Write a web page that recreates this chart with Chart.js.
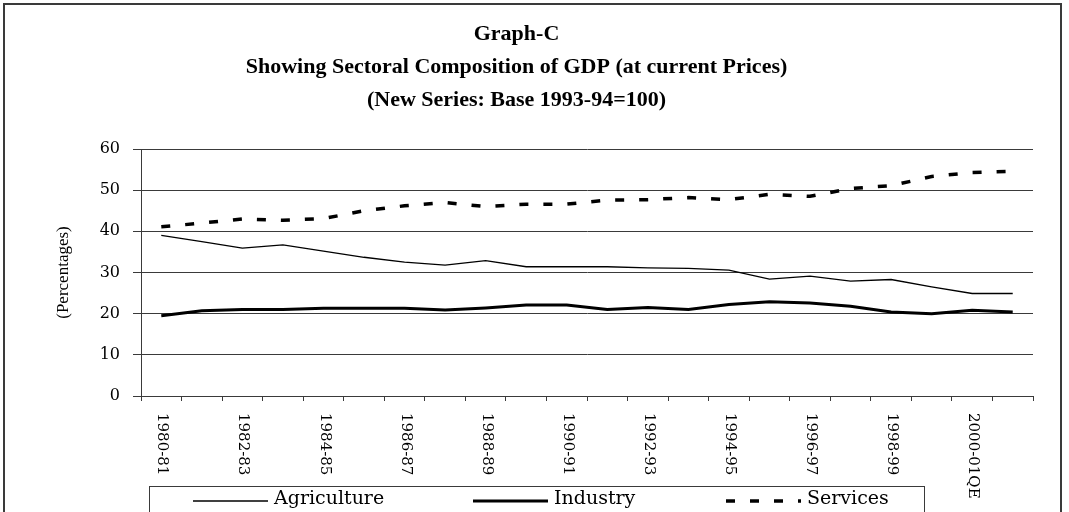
<!DOCTYPE html>
<html lang="en">
<head>
<meta charset="UTF-8">
<title>Sectoral Composition of GDP</title>
<script src="https://cdn.jsdelivr.net/npm/chart.js"></script>
<style>
  body { margin: 0; background: #fff; }
  .wrap { position: relative; width: 1069px; height: 512px; overflow: hidden; }
  .frame { position: absolute; left: 3px; top: 3px; width: 1059px; height: 540px; border: 2px solid #3a3a3a; box-sizing: border-box; }
  canvas { position: absolute; left: 0; top: 0; }
</style>
</head>
<body>
<div class="wrap">
  <div class="frame"></div>
  <canvas id="grafico" width="1069" height="512"></canvas>
</div>

<script>
  const years = ['1980-81', '1981-82', '1982-83', '1983-84', '1984-85', '1985-86', '1986-87', '1987-88',
    '1988-89', '1989-90', '1990-91', '1991-92', '1992-93', '1993-94', '1994-95', '1995-96', '1996-97',
    '1997-98', '1998-99', '1999-00', '2000-01QE', '2001-02AE'];

  const agriculture = [39.0, 37.5, 35.9, 36.7, 35.2, 33.7, 32.5, 31.8, 32.9, 31.4, 31.4,
    31.4, 31.1, 31.0, 30.6, 28.4, 29.1, 27.9, 28.3, 26.5, 24.9, 24.9];
  const industry = [19.5, 20.7, 21.0, 21.0, 21.3, 21.3, 21.3, 20.9, 21.4, 22.1, 22.1,
    21.0, 21.5, 21.0, 22.2, 22.9, 22.6, 21.8, 20.4, 20.0, 20.8, 20.4];
  const services = [41.1, 42.0, 43.0, 42.7, 43.1, 45.0, 46.2, 47.0, 46.0, 46.6, 46.6,
    47.6, 47.7, 48.2, 47.7, 49.0, 48.5, 50.4, 51.1, 53.3, 54.3, 54.6];

  const titleLines = ['Graph-C', 'Showing Sectoral Composition of GDP (at current Prices)', '(New Series: Base 1993-94=100)'];
  const yTitle = '(Percentages)';

  // every other year label, written top-to-bottom under the axis
  const xLabels = {
    id: 'xLabels',
    afterDraw(chart) {
      const { ctx } = chart;
      const x = chart.scales.x;
      ctx.save();
      ctx.font = '15px "DejaVu Serif"';
      ctx.fillStyle = '#000';
      ctx.textAlign = 'left';
      ctx.textBaseline = 'middle';
      years.forEach((label, i) => {
        if (i % 2) return;
        ctx.save();
        ctx.translate(x.getPixelForValue(i) + 1, x.top + 17);
        ctx.rotate(Math.PI / 2);
        ctx.fillText(label, 0, 0);
        ctx.restore();
      });
      ctx.restore();
    }
  };

  // legend box along the bottom edge
  const boxLegend = {
    id: 'boxLegend',
    afterDraw(chart) {
      const { ctx } = chart;
      const starts = [193, 473, 726];
      ctx.save();
      ctx.strokeStyle = '#3a3a3a';
      ctx.lineWidth = 1;
      ctx.strokeRect(149.5, 486.5, 775, 60);
      ctx.font = '19px "DejaVu Serif"';
      ctx.fillStyle = '#000';
      ctx.textBaseline = 'middle';
      chart.data.datasets.forEach((ds, i) => {
        const x0 = starts[i];
        ctx.save();
        ctx.strokeStyle = ds.borderColor;
        ctx.lineWidth = ds.borderWidth;
        ctx.setLineDash(ds.borderDash || []);
        ctx.beginPath();
        ctx.moveTo(x0, 501);
        ctx.lineTo(x0 + 75, 501);
        ctx.stroke();
        ctx.restore();
        ctx.fillText(ds.label, x0 + 81, 499);
      });
      ctx.restore();
    }
  };

  new Chart(document.getElementById('grafico'), {
    type: 'line',
    data: {
      labels: years,
      datasets: [
        { label: 'Agriculture', data: agriculture, borderColor: '#000', borderWidth: 1.3, pointRadius: 0, tension: 0 },
        { label: 'Industry', data: industry, borderColor: '#000', borderWidth: 3, pointRadius: 0, tension: 0 },
        { label: 'Services', data: services, borderColor: '#000', borderWidth: 3.5, borderDash: [9, 15],
          borderCapStyle: 'butt', pointRadius: 0, tension: 0 }
      ]
    },
    options: {
      responsive: false,
      animation: false,
      devicePixelRatio: 1,
      layout: { padding: { top: 0, left: 0, right: 36, bottom: 0 } },
      plugins: {
        legend: { display: false },
        tooltip: { enabled: false },
        title: {
          display: true,
          text: titleLines,
          color: '#000',
          font: { family: '"Liberation Serif"', size: 22, weight: 'bold', lineHeight: 1.5 },
          padding: { top: 18, bottom: 32 }
        }
      },
      scales: {
        x: {
          offset: true,
          afterFit: s => { s.height = 116; },
          grid: { offset: true, drawOnChartArea: false, tickLength: 5, color: '#3a3a3a' },
          border: { color: '#3a3a3a' },
          ticks: { display: false }
        },
        y: {
          min: 0,
          max: 60,
          afterFit: s => { s.width = 141; },
          ticks: { stepSize: 10, padding: 13, color: '#000', font: { family: '"DejaVu Serif"', size: 16 } },
          grid: { color: '#3a3a3a', tickLength: 8 },
          border: { color: '#3a3a3a' },
          title: {
            display: true,
            text: yTitle,
            color: '#000',
            font: { family: '"Liberation Serif"', size: 17 },
            padding: { top: 53 }
          }
        }
      }
    },
    plugins: [xLabels, boxLegend]
  });
</script>
</body>
</html>
